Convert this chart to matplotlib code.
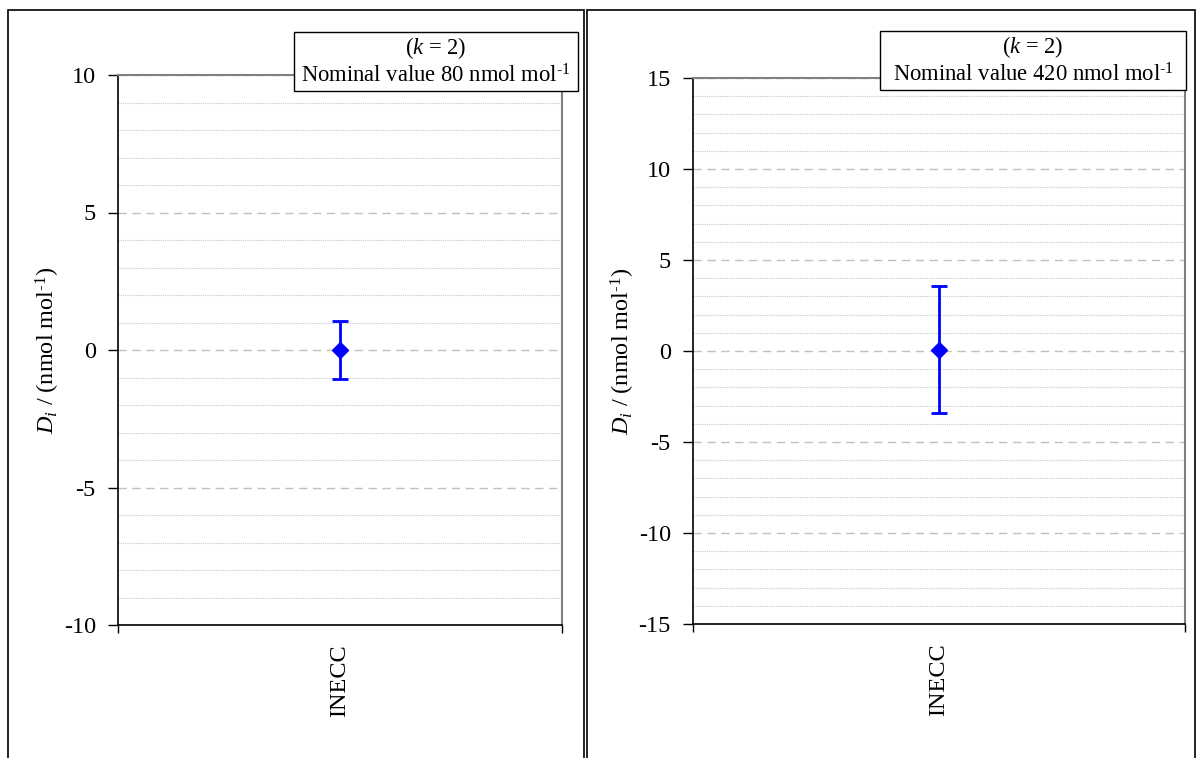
import matplotlib
matplotlib.use("Agg")
import matplotlib.pyplot as plt
from matplotlib.patches import Rectangle
from matplotlib.ticker import MultipleLocator

plt.rcParams['font.family'] = ['Liberation Serif', 'DejaVu Serif']
plt.rcParams['mathtext.fontset'] = 'custom'
plt.rcParams['mathtext.rm'] = 'Liberation Serif'
plt.rcParams['mathtext.it'] = 'Liberation Serif:italic'
plt.rcParams['axes.unicode_minus'] = False

categories = ["INECC"]
left_values = [0.0]
left_U = [1.05]
right_values = [0.07]
right_U = [3.5]

W, H = 1197, 758
fig = plt.figure(figsize=(W / 100, H / 100), dpi=100)

def fx(px):
    return px / W

def fy(py):
    return 1 - py / H

# panel borders
for x0, x1 in [(8, 584), (587, 1195)]:
    fig.patches.append(Rectangle((fx(x0), fy(770)), fx(x1) - fx(x0), fy(10) - fy(770),
                                 transform=fig.transFigure, fill=False, ec='black', lw=1.2))

SUP = r"$^{\text{-1}}$"

def make_panel(rect_px, values, U, lim, box_px, nominal):
    x0, y0, x1, y1 = rect_px
    ax = fig.add_axes([fx(x0), fy(y1), fx(x1) - fx(x0), fy(y0) - fy(y1)])
    xs = list(range(len(categories)))
    ax.errorbar(xs, values, yerr=U, fmt='D', color='#0000FF', ms=8, lw=2,
                capsize=6, capthick=2, zorder=5)
    ax.set_xlim(-0.5, len(categories) - 0.5)
    ax.set_ylim(-lim, lim)
    ax.yaxis.set_major_locator(MultipleLocator(5))
    ax.yaxis.set_minor_locator(MultipleLocator(1))
    ax.grid(which='minor', axis='y', color='#c8c8c8', lw=0.8, ls=(0, (1, 1)))
    ax.grid(which='major', axis='y', color='#c0c0c0', lw=1.0, ls=(0, (6, 4)))
    ax.set_axisbelow(True)
    ax.tick_params(axis='y', which='minor', length=0)
    ax.tick_params(axis='y', which='major', direction='out', length=7, width=1,
                   labelsize=17.5, pad=9)
    ax.set_xticks([-0.5, len(categories) - 0.5], minor=False)
    ax.set_xticklabels(['', ''])
    ax.set_xticks(xs, minor=True)
    ax.set_xticklabels(categories, minor=True, rotation=90, fontsize=17.5)
    ax.tick_params(axis='x', which='major', direction='out', length=6, width=1)
    ax.tick_params(axis='x', which='minor', length=0, pad=14)
    for s in ['top', 'right']:
        ax.spines[s].set_color('#808080')
        ax.spines[s].set_linewidth(1.5)
    for s in ['left', 'bottom']:
        ax.spines[s].set_color('black')
        ax.spines[s].set_linewidth(1.2)
    ax.set_ylabel(r"$D_i$ / (nmol mol" + SUP + ")", fontsize=17.5, labelpad=1)
    bx0, by0, bx1, by1 = box_px
    fig.patches.append(Rectangle((fx(bx0), fy(by1)), fx(bx1) - fx(bx0), fy(by0) - fy(by1),
                                 transform=fig.transFigure, fc='white', ec='black', lw=1.0,
                                 zorder=10))
    cx = fx((bx0 + bx1) / 2)
    fig.text(cx, fy(by0 + 16), r"($k$ = 2)", ha='center', va='center', fontsize=16.3, zorder=11)
    fig.text(cx, fy(by0 + 44), "Nominal value %s nmol mol" % nominal + SUP,
             ha='center', va='center', fontsize=16.3, zorder=11)
    return ax

make_panel((118, 75, 562, 625), left_values, left_U, 10, (294, 32, 578, 91), "80")
make_panel((693, 78, 1185, 624), right_values, right_U, 15, (880, 31, 1186, 90), "420")

fig.savefig("out.png", dpi=100)
